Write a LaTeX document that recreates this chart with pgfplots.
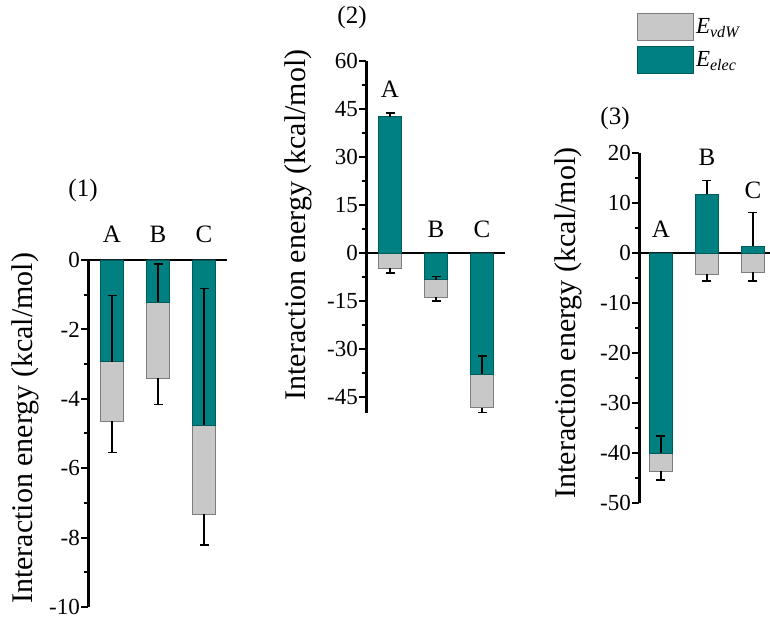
\documentclass[border=0pt]{standalone}
\usepackage{fontspec}
\setmainfont{Liberation Serif}
\usepackage{pgfplots}
\pgfplotsset{compat=1.18}
\definecolor{tealbar}{RGB}{0,128,128}
\definecolor{tealedge}{RGB}{0,92,92}
\definecolor{graybar}{RGB}{200,200,200}
\definecolor{grayedge}{RGB}{125,125,125}
\newcommand{\catfont}{\fontsize{25}{25}\selectfont}
\pgfplotsset{
  panel/.style={
    scale only axis, anchor=south west, clip=false,
    ybar, bar width=0.5, bar shift=0pt,
    axis x line=middle, axis y line*=left,
    x axis line style={-, line width=2.4pt},
    y axis line style={-, line width=3pt},
    xtick=\empty,
    tick align=outside,
    major tick length=7pt, minor tick length=4pt,
    tick style={black, line width=2pt},
    minor y tick num=1,
    /pgf/number format/assume math mode=true,
    yticklabel style={font=\fontsize{23}{23}\selectfont, inner sep=1pt},
    ylabel style={font=\fontsize{30}{30}\selectfont, anchor=center},
    ylabel={Interaction energy (kcal/mol)},
  },
  errstyle/.style={
    error bars/y explicit,
    error bars/error bar style={black, line width=1.4pt},
    error bars/error mark options={rotate=90, mark size=4.5pt, line width=1.4pt, black}},
  vdw/.style={fill=graybar, draw=grayedge, line width=0.8pt, errstyle,
    error bars/y dir=minus},
  elec/.style={fill=tealbar, draw=tealedge, line width=0.8pt, errstyle,
    error bars/y dir=plus},
  legbox/.style={legend image code/.code={\draw[##1] (0pt,-13.5pt) rectangle (56pt,13.5pt);}},
}
\begin{document}
\begin{tikzpicture}
\useasboundingbox (0,0) rectangle (770pt,620pt);

% Panel (1)
\begin{axis}[panel, at={(88pt,13pt)}, width=139pt, height=347pt,
  xmin=0.478, xmax=3.5, ymin=-10, ymax=0, ytick={-10,-8,...,0},
  ylabel style={at={(axis description cs:-0.453,0.515)}}]
\addplot[vdw] table[x=x, y=y, y error=e] {
x y e
1 -4.64 0.90
2 -3.40 0.76
3 -7.32 0.89
};
\addplot[elec] table[x=x, y=y, y error=e] {
x y e
1 -2.93 1.91
2 -1.21 1.09
3 -4.76 3.93
};
\node[anchor=base, font=\catfont, yshift=17pt] at (axis cs:1,0) {A};
\node[anchor=base, font=\catfont, yshift=17pt] at (axis cs:2,0) {B};
\node[anchor=base, font=\catfont, yshift=17pt] at (axis cs:3,0) {C};
\end{axis}

% Panel (2)
\begin{axis}[panel, at={(366pt,207pt)}, width=139pt, height=352pt,
  xmin=0.478, xmax=3.5, ymin=-50, ymax=60, ytick={-45,-30,...,60},
  ylabel style={at={(axis description cs:-0.49,0.534)}}]
\addplot[vdw] table[x=x, y=y, y error=e] {
x y e
1 -4.8 1.5
2 -13.8 1.2
3 -48.4 1.5
};
\addplot[elec] table[x=x, y=y, y error=e] {
x y e
1 42.6 1.2
2 -8.4 1.0
3 -37.9 5.7
};
\node[anchor=base, font=\catfont, yshift=15pt] at (axis cs:1,43.8) {A};
\node[anchor=base, font=\catfont, yshift=15pt] at (axis cs:2,0) {B};
\node[anchor=base, font=\catfont, yshift=15pt] at (axis cs:3,0) {C};
\end{axis}

% Panel (3)
\begin{axis}[panel, at={(639pt,117pt)}, width=131pt, height=350pt,
  xmin=0.522, xmax=3.37, ymin=-50, ymax=20, ytick={-50,-40,...,20},
  ylabel style={at={(axis description cs:-0.542,0.514)}},
  legend style={at={(axis description cs:-0.015,1.4)}, anchor=north west,
    draw=none, fill=none, inner sep=0pt, row sep=5pt,
    font=\fontsize{23}{23}\selectfont, cells={anchor=west}}]
\addplot[legbox, vdw] table[x=x, y=y, y error=e] {
x y e
1 -43.7 1.7
2 -4.2 1.4
3 -3.9 1.7
};
\addlegendentry{\textit{E}\textsubscript{\textit{vdW}}}
\addplot[legbox, elec] table[x=x, y=y, y error=e] {
x y e
1 -40.0 3.4
2 11.7 2.8
3 1.3 6.8
};
\addlegendentry{\textit{E}\textsubscript{\textit{elec}}}
\node[anchor=base, font=\catfont, yshift=15pt] at (axis cs:1,0) {A};
\node[anchor=base, font=\catfont, yshift=15pt] at (axis cs:2,14.5) {B};
\node[anchor=base, font=\catfont, yshift=14pt] at (axis cs:3,8.1) {C};
\end{axis}

\node[font=\catfont] at (83pt,430pt) {(1)};
\node[font=\catfont] at (352pt,603pt) {(2)};
\node[font=\catfont] at (615pt,502pt) {(3)};
\end{tikzpicture}
\end{document}
